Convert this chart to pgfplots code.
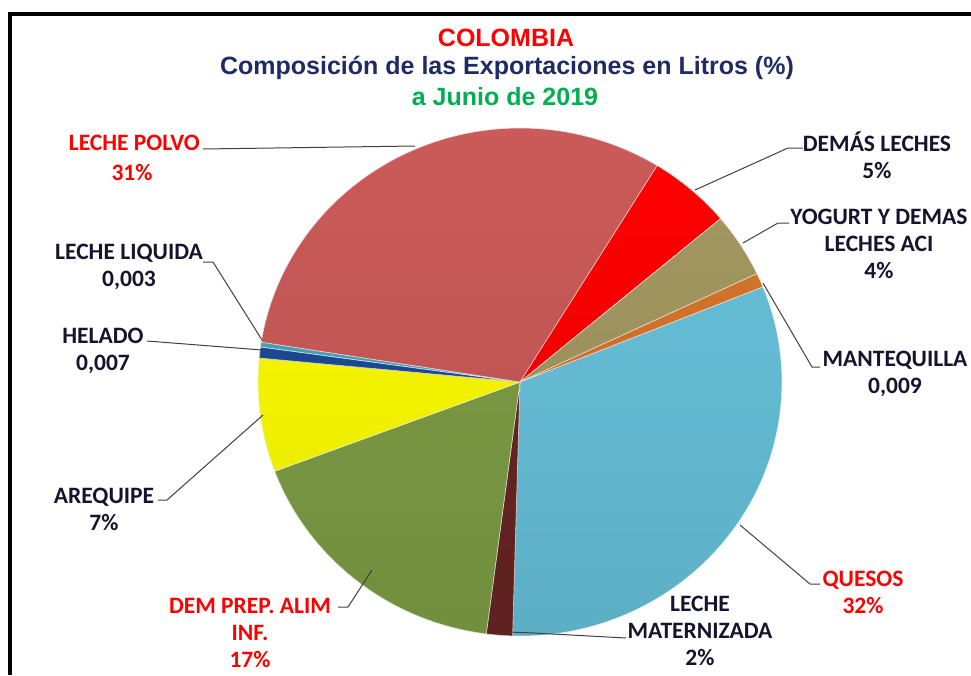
\documentclass[border=0pt]{standalone}
\usepackage{pgfplots}
\pgfplotsset{compat=1.18}
\usepackage{pgfplotstable}
\usepackage{fontspec}
\setmainfont{Carlito}
\newfontfamily\titlefont{Liberation Sans}
\usetikzlibrary{calc,fadings}

\definecolor{cQuesos}{HTML}{68C3DC}
\definecolor{cMater}{HTML}{6A2624}
\definecolor{cDemPrep}{HTML}{7F9F46}
\definecolor{cAreq}{HTML}{FFFF00}
\definecolor{cHelado}{HTML}{1F4C98}
\definecolor{cLiquida}{HTML}{45A8BE}
\definecolor{cPolvo}{HTML}{CB5B59}
\definecolor{cDemas}{HTML}{FF0000}
\definecolor{cYogurt}{HTML}{A59962}
\definecolor{cMantequilla}{HTML}{D8762C}
\definecolor{labNavy}{HTML}{14142E}
\definecolor{titNavy}{HTML}{1F2A66}
\definecolor{titGreen}{HTML}{00B050}

% share of litres exported (%), clockwise from QUESOS
\pgfplotstableread[col sep=comma]{
name,value,color
QUESOS,31.5,cQuesos
LECHE MATERNIZADA,1.6,cMater
DEM PREP. ALIM INF.,17.2,cDemPrep
AREQUIPE,7.2,cAreq
HELADO,0.7,cHelado
LECHE LIQUIDA,0.3,cLiquida
LECHE POLVO,31.2,cPolvo
DEMAS LECHES,5.1,cDemas
YOGURT Y DEMAS LECHES ACI,4.1,cYogurt
MANTEQUILLA,0.9,cMantequilla
}\pietable

\begin{document}
\begin{tikzpicture}
\begin{axis}[
  width=971pt, height=675pt, scale only axis,
  xmin=0, xmax=971, ymin=0, ymax=675, y dir=reverse,
  hide axis, clip=false]
  \path[use as bounding box] (axis cs:0,0) rectangle (axis cs:971,675);
  % frame
  \draw[black, line width=4pt] (axis cs:10,675) -- (axis cs:10,13.5) -- (axis cs:971,13.5);

  % pie slices
  \pgfplotstablegetrowsof{\pietable}
  \pgfmathtruncatemacro{\nrows}{\pgfplotsretval-1}
  \xdef\total{0}
  \pgfplotsforeachungrouped \i in {0,...,\nrows}{%
    \pgfplotstablegetelem{\i}{value}\of\pietable
    \pgfmathsetmacro{\tmp}{\total+\pgfplotsretval}%
    \xdef\total{\tmp}%
  }
  \xdef\angstart{22}
  \pgfplotsforeachungrouped \i in {0,...,\nrows}{%
    \pgfplotstablegetelem{\i}{value}\of\pietable \let\v\pgfplotsretval
    \pgfplotstablegetelem{\i}{color}\of\pietable \let\c\pgfplotsretval
    \pgfmathsetmacro{\angend}{\angstart - \v/\total*360}%
    \edef\doslice{\noexpand\fill[fill=\c, draw=white!80!\c, line width=0.6pt]
      (axis cs:520,382) -- +(\angstart:262pt and 254pt)
      arc[start angle=\angstart, end angle=\angend, x radius=262pt, y radius=254pt] -- cycle;}%
    \doslice
    \xdef\angstart{\angend}%
  }
  % soft shading for the 3-D look
  \fill[black, fill opacity=0.1, path fading=north] (axis cs:520,382) ellipse[x radius=262pt, y radius=254pt];

  % title
  \node[font=\titlefont\bfseries\fontsize{25}{29}\selectfont, text=red] at (axis cs:506,38) {COLOMBIA};
  \node[font=\titlefont\bfseries\fontsize{25}{29}\selectfont, text=titNavy] at (axis cs:507,68) {Composición de las Exportaciones en Litros (\%)};
  \node[font=\titlefont\bfseries\fontsize{25}{29}\selectfont, text=titGreen] at (axis cs:505,97) {a Junio de 2019};

  % leader lines
  \begin{scope}[draw=black!75, line width=1pt]
  \draw (axis cs:203,149) -- (axis cs:415,146);
  \draw (axis cs:803,148) -- (axis cs:788,148) -- (axis cs:695,190);
  \draw (axis cs:789,223) -- (axis cs:778,223) -- (axis cs:743,243);
  \draw (axis cs:820,367) -- (axis cs:812,367) -- (axis cs:763,283);
  \draw (axis cs:820,584) -- (axis cs:810,584) -- (axis cs:740,525);
  \draw (axis cs:626,638) -- (axis cs:534,633) -- (axis cs:508,632);
  \draw (axis cs:338,607) -- (axis cs:348,607) -- (axis cs:372,570);
  \draw (axis cs:158,500) -- (axis cs:167,500) -- (axis cs:263,415);
  \draw (axis cs:147,341) -- (axis cs:262,350);
  \draw (axis cs:203,262) -- (axis cs:213,262) -- (axis cs:262,340);
  \end{scope}

  % labels
  \tikzset{lab/.style={font=\bfseries\fontsize{23.5}{27}\selectfont, align=center, text=labNavy, inner sep=0pt}}
  \node[lab, text=red, anchor=east] at (axis cs:200,143) {LECHE POLVO};
  \node[lab, text=red] at (axis cs:132,172) {31\%};
  \node[lab] at (axis cs:877,155) {DEMÁS LECHES\\5\%};
  \node[lab] at (axis cs:879,244) {YOGURT Y DEMAS\\LECHES ACI\\4\%};
  \node[lab] at (axis cs:895,374) {MANTEQUILLA\\0,009};
  \node[lab, text=red] at (axis cs:863,592) {QUESOS\\32\%};
  \node[lab] at (axis cs:700,631) {LECHE\\MATERNIZADA\\2\%};
  \node[lab, text=red] at (axis cs:250,633) {DEM PREP. ALIM\\INF.\\17\%};
  \node[lab] at (axis cs:104,509) {AREQUIPE\\7\%};
  \node[lab] at (axis cs:103,351) {HELADO\\0,007};
  \node[lab] at (axis cs:129,267) {LECHE LIQUIDA\\0,003};
\end{axis}
\end{tikzpicture}
\end{document}
